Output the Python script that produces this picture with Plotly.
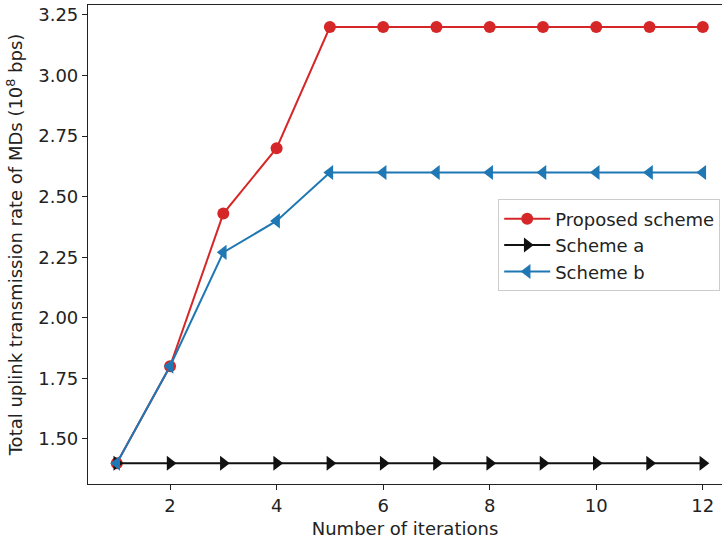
import plotly.graph_objects as go

iterations = [1, 2, 3, 4, 5, 6, 7, 8, 9, 10, 11, 12]
proposed = [1.40, 1.80, 2.43, 2.70, 3.20, 3.20, 3.20, 3.20, 3.20, 3.20, 3.20, 3.20]
scheme_a = [1.40, 1.40, 1.40, 1.40, 1.40, 1.40, 1.40, 1.40, 1.40, 1.40, 1.40, 1.40]
scheme_b = [1.40, 1.80, 2.27, 2.40, 2.60, 2.60, 2.60, 2.60, 2.60, 2.60, 2.60, 2.60]
y_ticks = [1.50, 1.75, 2.00, 2.25, 2.50, 2.75, 3.00, 3.25]
x_ticks = [2, 4, 6, 8, 10, 12]

FONT = "DejaVu Sans"
fs = 18

fig = go.Figure()
fig.add_trace(go.Scatter(x=iterations, y=proposed, mode="lines+markers", name="Proposed scheme",
                         line=dict(color="#d62728", width=2),
                         marker=dict(symbol="circle", size=12, color="#d62728")))
fig.add_trace(go.Scatter(x=iterations, y=scheme_a, mode="lines+markers", name="Scheme a",
                         line=dict(color="#111111", width=2),
                         marker=dict(symbol="triangle-right", size=13, color="#111111")))
fig.add_trace(go.Scatter(x=iterations, y=scheme_b, mode="lines+markers", name="Scheme b",
                         line=dict(color="#1f77b4", width=2),
                         marker=dict(symbol="triangle-left", size=13, color="#1f77b4")))

fig.update_layout(
    width=726, height=542,
    margin=dict(l=88, r=4, t=5, b=58),
    paper_bgcolor="white", plot_bgcolor="white",
    font=dict(family=FONT, size=fs, color="#222222"),
    showlegend=True,
    legend=dict(x=0.647, y=0.594, xanchor="left", yanchor="top",
                bgcolor="white", bordercolor="#cccccc", borderwidth=1,
                font=dict(family=FONT, size=fs, color="#222222"),
                tracegroupgap=0, itemwidth=46),
    xaxis=dict(range=[0.46, 12.36], tickvals=x_ticks, ticks="outside", ticklen=5,
               tickcolor="#222222", showline=True, linecolor="#222222", linewidth=1.2,
               mirror=True, showgrid=False, zeroline=False,
               title=dict(text="Number of iterations", standoff=7,
                          font=dict(family=FONT, size=fs))),
    yaxis=dict(range=[1.314, 3.291], tickvals=y_ticks, tickformat=".2f", ticks="outside",
               ticklen=5, tickcolor="#222222", showline=True, linecolor="#222222",
               linewidth=1.2, showgrid=False, zeroline=False,
               title=dict(text="Total uplink transmission rate of MDs (10<sup>8</sup> bps)",
                          standoff=10, font=dict(family=FONT, size=fs))),
)

fig.write_html("out.html", config={"displayModeBar": False},
               post_script="document.body.style.margin='0px';")
